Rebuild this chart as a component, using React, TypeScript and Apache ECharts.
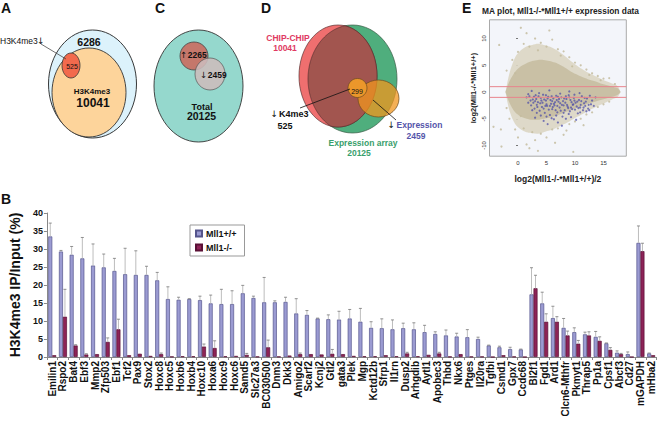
import React, { useEffect, useRef } from "react";
import * as echarts from "echarts";

// ---------- Panel B data ----------
const genes = ["Emilin1","Rspo2","Bat4","Ebf3","Mmp2","Zfp503","Ebf1","Tcf2","Pax9","Stox2","Hoxc8","Hoxc5","Hoxb6","Hoxb4","Hoxc10","Hoxa6","Hoxc9","Hoxc6","Samd5","Slc27a3","BC030500","Dnm3","Dkk3","Amigo2","Scarf2","Kcnj2","Gtl2","gata3","Plek","Mgp","Kctd12b","Sfrp1","Il1rn","Dusp2","Arhgdib","Aytl1","Apobec3","Thbd","Nkx6","Ptges","Il20ra","Tgfbi","Csmd1","Gpx7","Ccdc68","Bl2f1","Fgd1","Ard1","Clcn6-Mthfr","Pkmyt1","Thrap5","Pp1a","Cpsf1","Abcf3","Cd27","mGAPDH","mHba2"];
const wtValues = [33.5,29.3,28.4,27.4,25.4,24.9,23.9,23.0,22.8,22.8,21.3,16.1,15.9,16.1,15.8,14.9,14.7,14.7,17.7,16.4,15.2,15.2,15.3,12.1,11.7,10.7,10.5,10.4,10.7,9.8,8.1,8.0,7.7,8.0,7.7,6.9,6.4,6.0,5.7,5.5,5.0,3.2,2.7,2.2,2.1,17.4,14.9,10.8,8.1,6.9,6.3,5.6,3.8,1.2,0.8,31.7,1.0];
const wtErrors = [3.7,0.3,2.3,5.8,6.0,3.7,3.5,7.2,6.7,2.4,2.2,3.4,0.7,0.1,1.1,2.3,4.1,3.7,2.2,0.5,6.9,0.4,1.3,4.1,1.2,0.1,1.2,2.3,2.5,3.7,1.7,2.6,2.6,1.4,1.8,1.9,0.6,1.5,0.9,2.1,0.5,0.1,0.3,0.5,0.1,7.4,3.1,3.3,2.6,1.2,0.6,1.5,0.1,0.5,0.6,4.7,0.1];
const koValues = [0.5,11.2,3.2,0.7,0.8,4.2,7.7,0.5,0.9,0.3,0.8,0.1,0.2,0.2,2.9,2.5,0.2,0.3,0.6,0.1,2.7,0.1,0.4,0.8,0.8,0.7,0.9,0.8,0.3,0.2,0.2,0.5,0.2,1.0,0.2,0.6,1.0,0.1,0.8,0.1,0.1,0.0,0.5,0.1,0.0,19.1,9.8,9.8,6.0,3.7,6.0,4.5,2.0,0.8,0.0,29.4,0.5];
const koErrors = [0,7.6,0.2,0.2,0,1.1,2.8,0,0,0,0.3,0,0,0,0.7,2.0,0,0,0.4,0,2.0,0,0,0.3,0,0,1.2,0,0,0,0,0,0,0.3,0,0,0.3,0,0,0,0,0,0,0,0,3.6,2.2,1.4,1.2,0.9,1.0,1.1,0.6,0.2,0,2.2,0];
const seriesNames = ["Mll1+/+", "Mll1-/-"];

// ---------- Panel E data ----------
const maTicksX = [0, 5, 10, 15];
const maTicksY = [-10, -5, 0, 5, 10];
const thresholds = [1, -1];
const cloudX = [-2.2,-1.5,-0.5,0.5,1.5,2.5,3.5,4.5,5.5,6.5,7.5,8.5,9.5,10.5,11.5,12.5,13.5,14.5,15.5,16.5,17.5,18];
const cloudOuterLow = [0,-3.5,-6,-7,-7.5,-7.7,-7.8,-7.5,-7.2,-6.8,-6.3,-5.8,-5.2,-4.6,-4.0,-3.4,-2.9,-2.4,-1.9,-1.4,-0.9,0];
const cloudOuterHigh = [0,3.5,6.5,7.8,8.5,8.8,9.0,8.8,8.5,8.0,7.3,6.5,5.6,4.8,4.1,3.5,3.0,2.5,2.0,1.6,1.1,0];
const cloudCoreLow = [0,-2,-3.8,-4.6,-5,-5.2,-5.2,-5,-4.8,-4.5,-4.1,-3.7,-3.3,-2.9,-2.5,-2.1,-1.8,-1.5,-1.2,-0.9,-0.5,0];
const cloudCoreHigh = [0,2,3.8,4.8,5.4,5.8,6.0,6.0,5.8,5.5,5.0,4.4,3.7,3.2,2.7,2.3,2.0,1.6,1.3,1.0,0.7,0];
const fringePoints = [[-3.3,8.8],[-1,6],[0,7.5],[1,9],[2,8.5],[3,10],[4,9.2],[5,8.5],[6,9.8],[7,8],[8,7.6],[9,6.5],[10,5.5],[11,5],[12,4.2],[13,3.5],[14,3],[15,2.5],[16,2.6],[-2,4],[1.5,11],[5.5,11.5],[3.5,7.8],[7.5,6.8],[9.5,4.8],[12.5,3.2],[14.5,2.2],[-0.5,3.5],[17,1.5],[0.5,12],
  [-2.9,-10.2],[-3,-7],[-1.5,-5],[-0.5,-7],[0,-8.5],[1,-6.8],[1.5,-9.8],[2.5,-7.5],[3,-9],[4,-7.8],[5,-8.5],[6,-7],[7,-6.8],[8,-8],[9.7,-11.2],[9,-6],[10,-5.5],[11,-5],[12,-4.2],[13,-3.8],[14,-2.8],[15,-2.3],[16,-1.8],[3.5,-11],[6.5,-9.5],[-2,-3],[0.5,-4.5],[2,-10.5],[11.5,-6.2],[8.5,-7.2],[-4.3,-6.5]];
const bluePoints = [[2.0,-0.8],[2.6,-1.4],[3.1,-0.6],[3.5,-1.9],[4.0,-1.1],[4.4,-0.5],[4.9,-1.6],[5.3,-0.9],[5.8,-2.2],[6.2,-1.2],[6.7,-0.7],[7.1,-1.8],[7.6,-1.0],[8.0,-2.5],[8.5,-1.3],[8.9,-0.6],[9.4,-1.9],[9.8,-1.1],[10.3,-2.7],[10.7,-1.5],[11.2,-0.8],[11.6,-2.1],[12.1,-1.2],[12.6,-0.7],[13.0,-1.6],
  [2.3,-2.5],[2.9,-3.1],[3.3,-2.4],[3.8,-3.5],[4.2,-2.8],[4.7,-3.9],[5.1,-2.6],[5.6,-4.3],[6.0,-3.2],[6.4,-2.5],[6.9,-3.8],[7.3,-2.9],[7.8,-4.6],[8.2,-3.4],[8.7,-2.7],[9.1,-3.6],[9.6,-2.4],[10.0,-3.3],[10.5,-4.0],[10.9,-2.9],[11.4,-3.4],[11.8,-2.6],[12.3,-3.1],[12.8,-2.3],
  [3.0,-4.8],[4.5,-5.4],[5.2,-6.0],[6.3,-5.1],[7.0,-5.7],[7.7,-6.3],[8.4,-5.0],[9.3,-4.7],[10.2,-5.2],[5.9,-4.9],[4.0,-4.4],
  [2.4,0.2],[3.7,-0.2],[5.5,0.3],[7.4,-0.3],[9.0,0.1],[10.8,-0.2],[1.5,-1.0],[1.8,-2.0],
  [3.2,-1.3],[3.9,-2.1],[4.6,-1.4],[5.0,-2.3],[5.7,-1.5],[6.5,-1.9],[7.2,-1.3],[7.9,-1.7],[8.3,-2.0],[9.2,-1.5],[9.7,-2.3],[10.4,-1.8],[11.0,-2.4],[6.1,-2.8],[4.3,-2.0],[8.8,-3.0],
  [2.2,-1.6],[2.8,-0.9],[3.4,-2.8],[3.6,-0.8],[4.1,-1.6],[4.8,-2.6],[5.2,-1.2],[5.4,-3.3],[5.9,-0.8],[6.3,-2.2],[6.8,-1.5],[6.9,-2.6],[7.4,-2.1],[7.5,-3.5],[8.1,-1.2],[8.6,-2.4],[9.0,-1.0],[9.3,-2.9],[9.9,-1.6],[10.1,-2.0],[10.6,-3.0],[11.1,-1.7],[11.5,-2.9],[11.9,-1.8],[12.4,-2.4],[2.7,-2.0],[3.0,-1.7],[4.5,-3.1],[5.6,-2.6],[6.6,-3.4],[7.0,-0.9],[8.0,-3.9],[9.5,-3.2],[10.9,-3.8],[12.0,-3.6],[4.9,-0.6],[6.0,-1.7],[8.4,-0.8],[9.9,-0.5],[11.7,-1.1],[3.3,-3.9],[5.0,-4.6],[6.7,-4.4],[8.9,-4.1],[12.5,-3.4],[13.3,-2.6],[13.6,-1.0],[1.8,-0.4],[2.5,-3.4],[7.7,-2.4]];

// ---------- Venn numbers ----------
const vennA = { other: "6286", h3k4: "10041", down: "525" };
const vennC = { up: "2265", down: "2459", total: "20125" };
const vennD = { chip: "10041", array: "20125", k4down: "525", exprDown: "2459", overlap: "299" };

const FF = "'Liberation Sans', Arial, sans-serif";
const f = (size: number, bold = true) => `${bold ? "bold " : ""}${size}px ${FF}`;
const ARROW_FONT = (size: number) => `${size}px 'DejaVu Sans', sans-serif`;

function txt(text: string, x: number, y: number, font: string, fill = "#111", align = "center") {
  return { type: "text", x, y, silent: true, style: { text, font, fill, textAlign: align, textVerticalAlign: "middle" } };
}
function ell(cx: number, cy: number, rx: number, ry: number, fill: string, stroke = "#333", lw = 0.8, opacity = 1) {
  return { type: "ellipse", shape: { cx, cy, rx, ry }, style: { fill, stroke, lineWidth: lw, opacity } };
}
function lensPoints(a: number[], b: number[]) {
  const pts: number[][] = [];
  const inside = (p: number[], e: number[]) => ((p[0] - e[0]) / e[2]) ** 2 + ((p[1] - e[1]) / e[3]) ** 2 <= 1;
  for (const [e, o] of [[a, b], [b, a]]) {
    for (let k = 0; k < 360; k++) {
      const t = (k / 360) * Math.PI * 2;
      const p = [e[0] + e[2] * Math.cos(t), e[1] + e[3] * Math.sin(t)];
      if (inside(p, o)) pts.push(p);
    }
  }
  const cx = pts.reduce((s, p) => s + p[0], 0) / pts.length;
  const cy = pts.reduce((s, p) => s + p[1], 0) / pts.length;
  pts.sort((p, q) => Math.atan2(p[1] - cy, p[0] - cx) - Math.atan2(q[1] - cy, q[0] - cx));
  return pts;
}

function cloudSeries(low: number[], high: number[], fill: string, opacity: number) {
  return {
    type: "custom", xAxisIndex: 0, yAxisIndex: 0, silent: true,
    data: cloudX.map((x, i) => [x, low[i], high[i]]),
    encode: { x: 0, y: [1, 2] },
    renderItem: (params: any, api: any) => {
      if (params.dataIndex !== 0) return null;
      const up = cloudX.map((x, i) => api.coord([x, high[i]]));
      const dn = cloudX.map((x, i) => api.coord([x, low[i]])).reverse();
      return { type: "polygon", shape: { points: [...up, ...dn], smooth: 0.3 }, style: { fill, opacity } };
    },
  };
}

export default function App() {
  const ref = useRef<HTMLDivElement>(null);
  useEffect(() => {
    document.body.style.margin = "0";
    const chart = echarts.init(ref.current!, undefined, { renderer: "svg" });
    const redE = [338, 76, 39, 51];
    const greenE = [352.5, 79, 44.5, 54];

    const errSeries = (vals: number[], errs: number[], off: number) => ({
      type: "custom",
      xAxisIndex: 1,
      yAxisIndex: 1,
      z: 3,
      silent: true,
      data: vals.map((v, i) => [i, v, v + errs[i]]),
      renderItem: (params: any, api: any) => {
        const i = api.value(0);
        const v0 = api.value(1);
        const v1 = api.value(2);
        if (v1 - v0 < 0.05) return null;
        const lo = api.coord([i, v0]);
        const hi = api.coord([i, v1]);
        const x = lo[0] + off;
        return {
          type: "group",
          children: [
            { type: "line", shape: { x1: x, y1: lo[1], x2: x, y2: hi[1] }, style: { stroke: "#bdbdbd", lineWidth: 1 } },
            { type: "line", shape: { x1: x - 1.5, y1: hi[1], x2: x + 1.5, y2: hi[1] }, style: { stroke: "#777", lineWidth: 0.8 } },
          ],
        };
      },
    });

    const option: any = {
      animation: false,
      textStyle: { fontFamily: FF },
      grid: [
        { left: 489.5, top: 19.8, width: 136.8, height: 136.4, show: true, backgroundColor: "#f3f5fa", borderColor: "#a9a9a9", borderWidth: 1 },
        { left: 37.5, top: 213, right: 7.5, bottom: 70 },
      ],
      legend: {
        data: seriesNames,
        left: 190,
        top: 225,
        orient: "vertical",
        icon: "rect",
        itemWidth: 6,
        itemHeight: 6,
        itemGap: 5,
        padding: [4, 8, 4, 5],
        borderColor: "#999",
        borderWidth: 1,
        textStyle: { fontSize: 9, fontWeight: "bold", color: "#111", padding: [0, 0, 0, -1] },
      },
      xAxis: [
        {
          type: "value", gridIndex: 0, min: -5, max: 19,
          name: "log2(Mll1-/-*Mll1+/+)/2", nameLocation: "middle", nameGap: 18,
          nameTextStyle: { fontSize: 8.5, fontWeight: "bold", color: "#222" },
          axisLine: { show: false },
          axisTick: { show: true, length: 2, customValues: maTicksX, lineStyle: { color: "#777" } },
          axisLabel: { fontSize: 6, color: "#333", margin: 4, customValues: maTicksX },
          splitLine: { show: false },
        },
        {
          type: "category", gridIndex: 1, data: genes,
          axisLine: { lineStyle: { color: "#888" } },
          axisTick: { show: true, length: 3, lineStyle: { color: "#888" } },
          axisLabel: { interval: 0, rotate: 90, fontSize: 10, fontWeight: "bold", color: "#111", margin: 4 },
        },
      ],
      yAxis: [
        {
          type: "value", gridIndex: 0, min: -12, max: 13.5,
          name: "log2(Mll1-/-*Mll1+/+)", nameLocation: "middle", nameGap: 12, nameRotate: 90,
          nameTextStyle: { fontSize: 7.5, fontWeight: "bold", color: "#222" },
          axisLine: { show: false },
          axisTick: { show: true, length: 2, customValues: maTicksY, lineStyle: { color: "#777" } },
          axisLabel: { fontSize: 6, color: "#333", margin: 3, rotate: 90, customValues: maTicksY },
          splitLine: { show: false },
        },
        {
          type: "value", gridIndex: 1, min: 0, max: 40, interval: 5,
          name: "H3K4me3 IP/Input (%)", nameLocation: "middle", nameGap: 18,
          nameTextStyle: { fontSize: 14, fontWeight: "bold", color: "#111" },
          axisLine: { show: true, lineStyle: { color: "#888" } },
          axisTick: { show: true, length: 3, lineStyle: { color: "#888" } },
          axisLabel: { fontSize: 9, fontWeight: "bold", color: "#111", margin: 4 },
          splitLine: { show: false },
        },
      ],
      series: [
        cloudSeries(cloudOuterLow, cloudOuterHigh, "#dcd6c3", 0.9),
        cloudSeries(cloudCoreLow, cloudCoreHigh, "#c7bfa3", 0.95),
        {
          type: "scatter", xAxisIndex: 0, yAxisIndex: 0, silent: true,
          data: fringePoints, symbolSize: 2.2,
          itemStyle: { color: "#c4bc9f", opacity: 0.85 },
        },
        {
          type: "scatter", xAxisIndex: 0, yAxisIndex: 0, silent: true,
          data: bluePoints, symbolSize: 2.2,
          itemStyle: { color: "#4848a8", opacity: 0.7 },
        },
        {
          type: "custom", xAxisIndex: 0, yAxisIndex: 0, silent: true, z: 4,
          data: thresholds.map((t) => [0, t]),
          renderItem: (params: any, api: any) => {
            const t = api.value(1);
            const a = api.coord([-5, t]);
            const b = api.coord([19, t]);
            return { type: "line", shape: { x1: a[0], y1: a[1], x2: b[0], y2: b[1] }, style: { stroke: "#e8848c", lineWidth: 1 } };
          },
        },
        {
          name: seriesNames[0], type: "bar", xAxisIndex: 1, yAxisIndex: 1,
          data: wtValues, barWidth: 4, barGap: "0%",
          itemStyle: { color: "#9b9bd2", borderColor: "#55558c", borderWidth: 0.7 },
        },
        {
          name: seriesNames[1], type: "bar", xAxisIndex: 1, yAxisIndex: 1,
          data: koValues, barWidth: 4, barGap: "0%",
          itemStyle: { color: "#8d2357", borderColor: "#5a1035", borderWidth: 0.7 },
        },
        errSeries(wtValues, wtErrors, -2),
        errSeries(koValues, koErrors, 2),
      ],
      graphic: [
        // panel letters
        txt("A", 1, 8, f(14), "#111", "left"),
        txt("C", 155, 8, f(14), "#111", "left"),
        txt("D", 261, 8, f(14), "#111", "left"),
        txt("E", 462, 8, f(14), "#111", "left"),
        txt("B", 1, 199, f(14), "#111", "left"),
        // Panel A
        ell(92.5, 84, 44, 54, "#dcf2fb", "#222", 0.9),
        ell(89, 92.5, 37, 44.5, "#fdd49b", "#333", 0.9),
        ell(71, 65.5, 9, 12.5, "#f26a4d", "#333", 0.8),
        { type: "line", shape: { x1: 41, y1: 44, x2: 66, y2: 59 }, style: { stroke: "#333", lineWidth: 0.7 } },
        txt("H3K4me3", 0, 41, f(8.5, false), "#111", "left"),
        txt("\u2193", 37, 41, ARROW_FONT(9), "#111", "left"),
        txt(vennA.other, 89, 42, f(10.5)),
        txt(vennA.down, 72, 66, f(7, false)),
        txt("H3K4me3", 92, 91.5, f(8)),
        txt(vennA.h3k4, 93, 103, f(12)),
        // Panel C
        ell(198.5, 86, 44.5, 56, "#95d8cd", "#333", 0.9),
        ell(194, 56, 14, 14, "#c5776b", "#444", 0.8),
        ell(210, 74, 15, 16, "#cdbcbc", "#555", 0.8, 0.88),
        txt("\u2191", 180, 55, ARROW_FONT(8.5), "#111", "left"),
        txt(vennC.up, 187.8, 55, f(8.5), "#111", "left"),
        txt("\u2193", 200, 74.5, ARROW_FONT(8.5), "#111", "left"),
        txt(vennC.down, 207.8, 74.5, f(8.5), "#111", "left"),
        txt("Total", 202, 106.5, f(9)),
        txt(vennC.total, 201.5, 116, f(10.5)),
        // Panel D
        ell(greenE[0], greenE[1], greenE[2], greenE[3], "#4fae7d", "#3a5a45", 0.7),
        ell(redE[0], redE[1], redE[2], redE[3], "#ef6f6f", "#5a3030", 0.7),
        { type: "polygon", shape: { points: lensPoints(redE, greenE) }, style: { fill: "#a2554f", stroke: "#4a2a2a", lineWidth: 0.6 } },
        ell(378.5, 98.5, 20.5, 18.5, "rgba(240,150,30,0.75)", "#6a4a20", 0.7),
        ell(357.5, 88, 9.5, 9.5, "#eb972b", "#6a4a20", 0.7),
        { type: "line", shape: { x1: 300, y1: 108, x2: 350, y2: 89 }, style: { stroke: "#111", lineWidth: 0.8 } },
        { type: "line", shape: { x1: 373, y1: 100, x2: 396, y2: 120 }, style: { stroke: "#111", lineWidth: 0.8 } },
        txt(vennD.overlap, 357, 91, f(7, false)),
        txt("CHIP-CHIP", 288, 37.5, f(8.5), "#e03a62"),
        txt(vennD.chip, 285, 48, f(8.5), "#e03a62"),
        txt("\u2193", 270.5, 114, ARROW_FONT(9), "#111", "left"),
        txt("K4me3", 279, 114, f(9), "#111", "left"),
        txt(vennD.k4down, 285, 126, f(9), "#111"),
        txt("\u2193", 387.5, 125, ARROW_FONT(9), "#111", "left"),
        txt("Expression", 396.5, 125, f(8.5), "#5555aa", "left"),
        txt(vennD.exprDown, 416, 136, f(8.5), "#5555aa"),
        txt("Expression array", 363, 142.5, f(8.5), "#3aa06c"),
        txt(vennD.array, 359, 153, f(8.5), "#3aa06c"),
        // Panel E title
        txt("MA plot, Mll1-/-*Mll1+/+ expression data", 482, 11, f(8.4), "#222", "left"),
      ],
    };
    chart.setOption(option);
    return () => chart.dispose();
  }, []);
  return <div ref={ref} style={{ width: 664, height: 427 }} />;
}
